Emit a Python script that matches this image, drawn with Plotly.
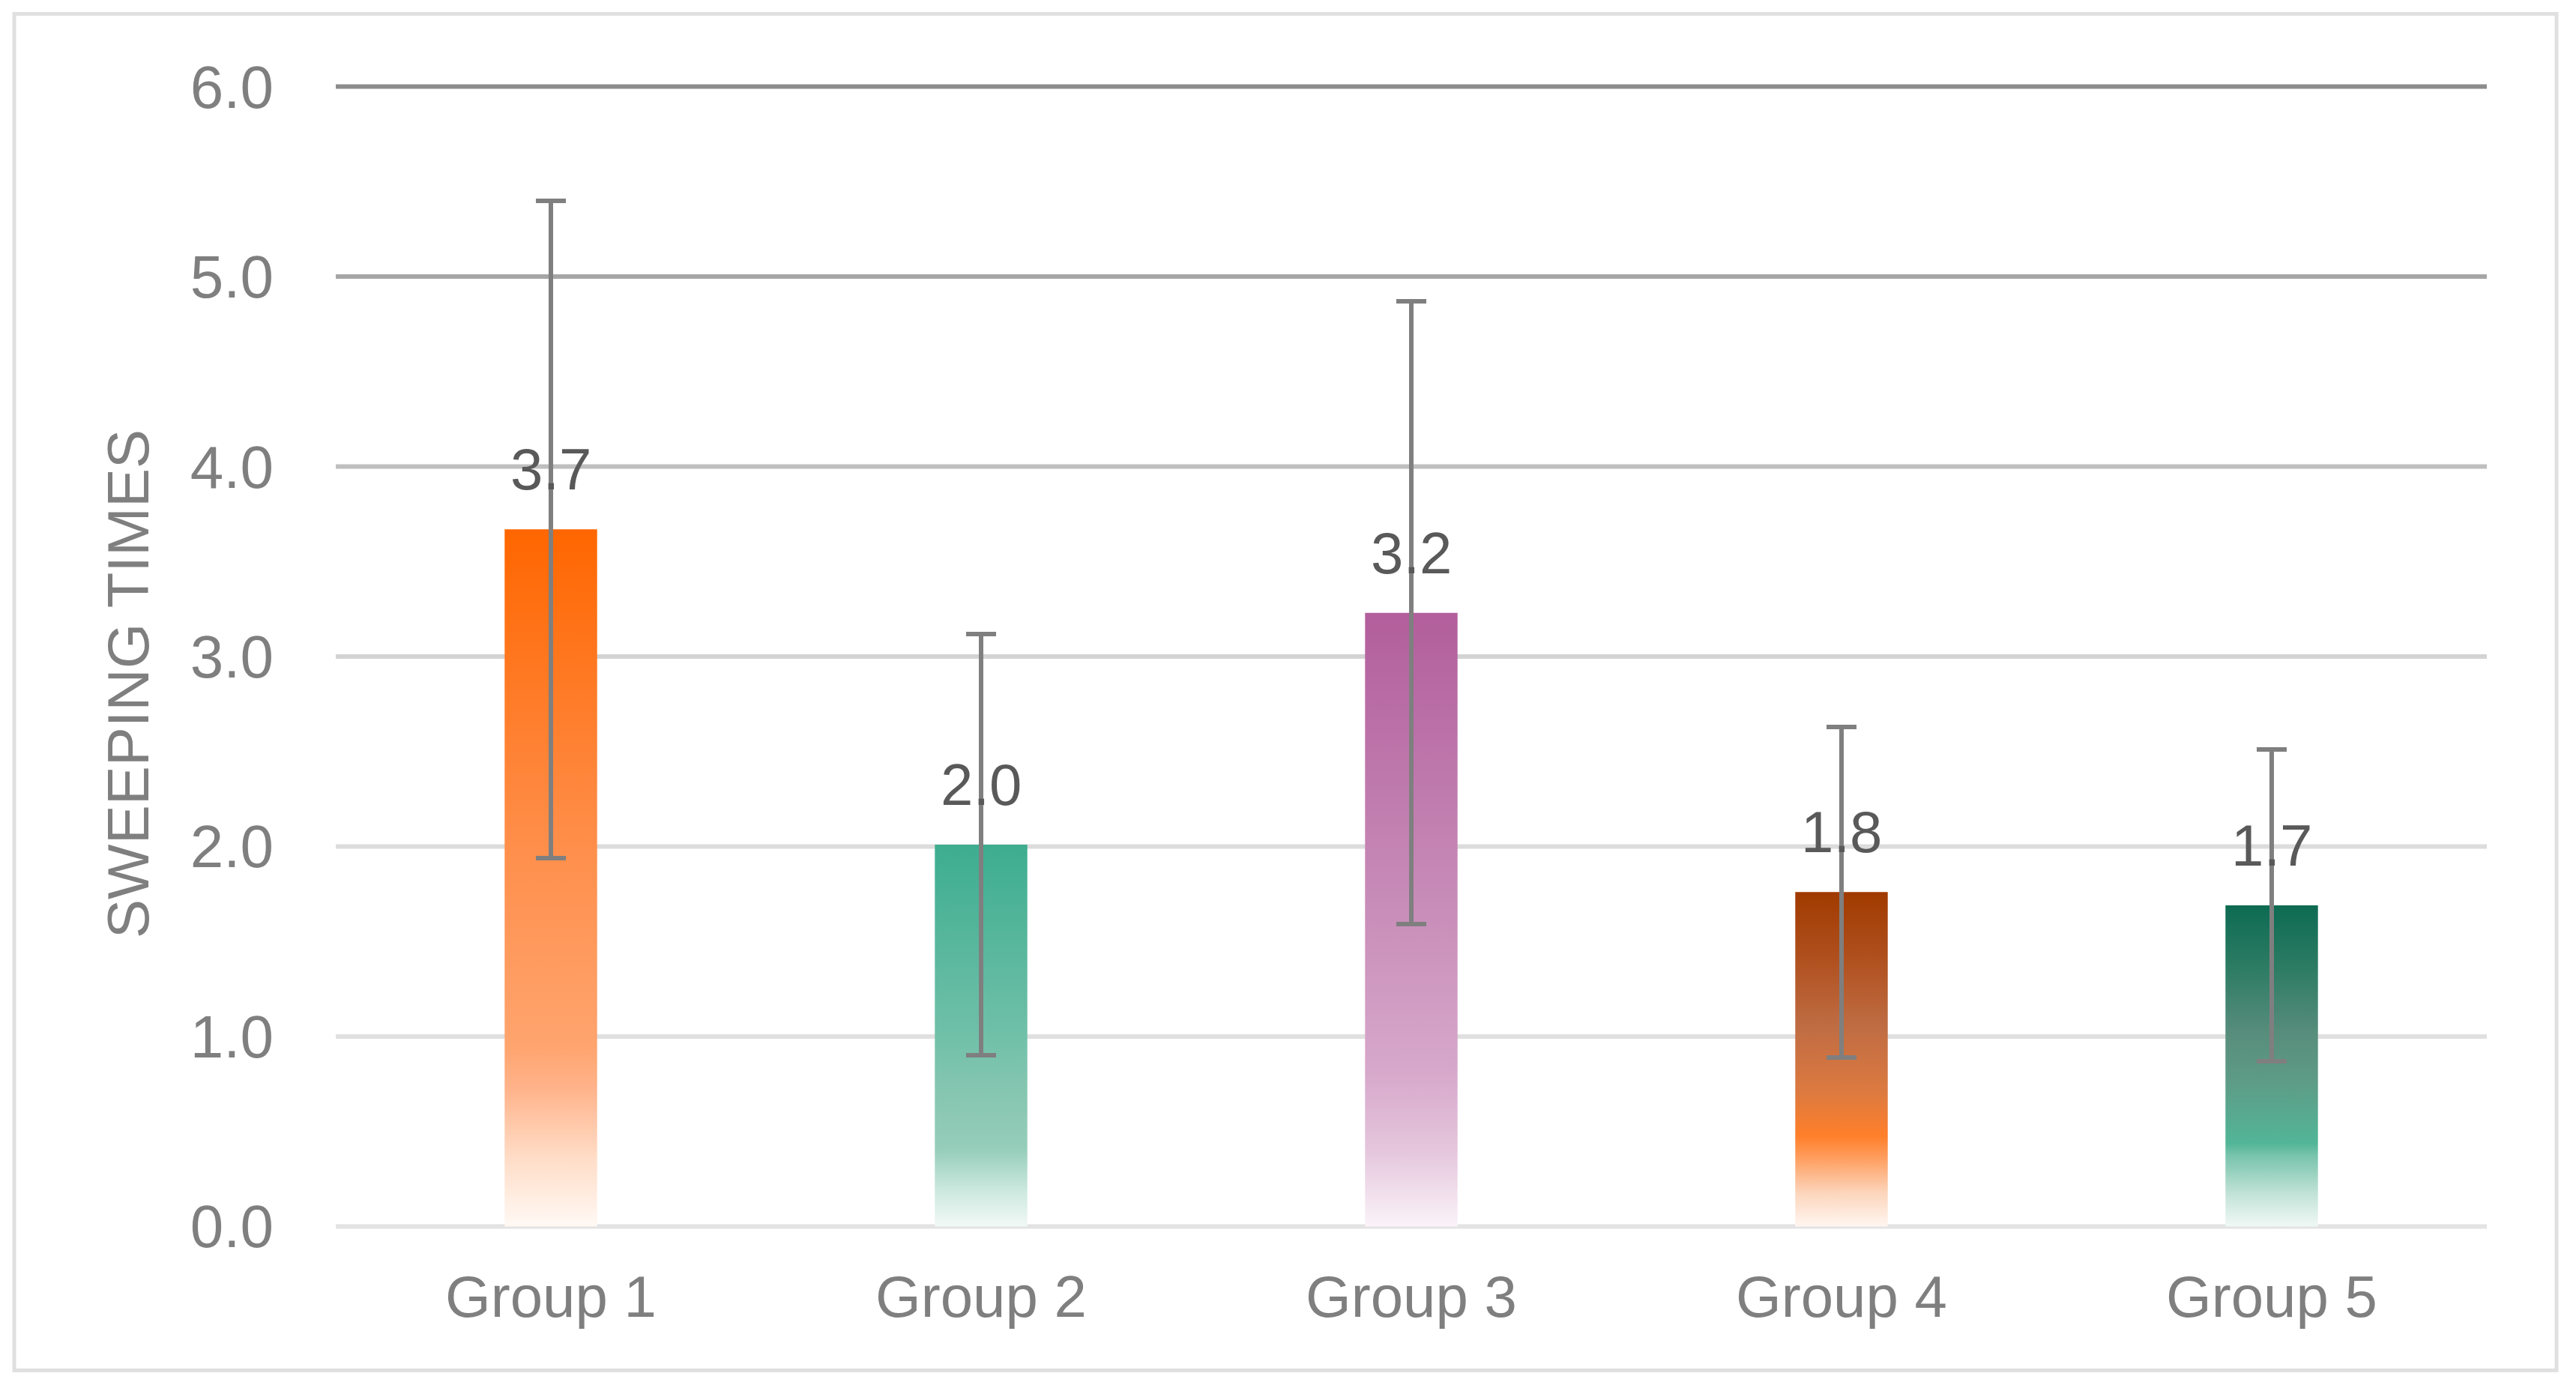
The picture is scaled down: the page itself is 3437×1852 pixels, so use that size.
import plotly.graph_objects as go

# ---------------- data ----------------
CATEGORIES = ["Group 1", "Group 2", "Group 3", "Group 4", "Group 5"]
MEANS = [3.67, 2.01, 3.23, 1.76, 1.69]
ERRORS = [1.73, 1.11, 1.64, 0.87, 0.82]
Y_TICKS = [0, 1, 2, 3, 4, 5, 6]
Y_TICK_LABELS = ["0.0", "1.0", "2.0", "3.0", "4.0", "5.0", "6.0"]
Y_TITLE = "SWEEPING TIMES"

# ---------------- style ----------------
W, H = 3437, 1852
M_L, M_R, M_T, M_B = 448, 119, 108.4, 208.4
Y_RANGE = [-0.03, 6.03]
BAR_WIDTH = 0.215
FONT = "Liberation Sans, Arial, sans-serif"
TICK_COLOR = "#7F7F7F"
LABEL_COLOR = "#595959"
ERR_COLOR = "#7F7F7F"
GRID_COLORS = ["#E3E3E3", "#E0E0E0", "#DCDCDC", "#D3D3D3", "#BFBFBF", "#A6A6A6", "#8C8C8C"]
# vertical gradients: position 0 = bottom of the bar, 1 = top
GRADIENTS = [
    [[0, "#FFF9F5"], [0.1, "#FFDCC6"], [0.2, "#FFB289"], [0.26, "#FFA46E"], [0.55, "#FF8E4A"], [1, "#FF6600"]],
    [[0, "#F2F9F7"], [0.1, "#C9E7DD"], [0.2, "#96CDBB"], [0.35, "#86C6B1"], [0.5, "#70C0A8"], [1, "#3DAD90"]],
    [[0, "#FAF3F8"], [0.12, "#E5C7DD"], [0.25, "#D7A8CB"], [0.5, "#C98FBA"], [1, "#B25E9C"]],
    [[0, "#FFF6F0"], [0.1, "#FCD5BC"], [0.21, "#FF9B5A"], [0.27, "#FF7F2A"], [0.4, "#DD7A40"],
     [0.6, "#BF6C43"], [0.8, "#B0501F"], [1, "#A03A00"]],
    [[0, "#F0F8F5"], [0.1, "#C3E3D8"], [0.22, "#78C4AC"], [0.26, "#52B597"], [0.45, "#5E9C87"],
     [0.6, "#588D7C"], [0.8, "#2E7C64"], [1, "#0D6B52"]],
]

fig = go.Figure()

# gradient-filled bar bodies (drawn in the base subplot)
for i, (v, cs) in enumerate(zip(MEANS, GRADIENTS)):
    x0, x1 = i - BAR_WIDTH / 2, i + BAR_WIDTH / 2
    fig.add_trace(go.Scatter(
        x=[x0, x1, x1, x0, x0], y=[0, 0, v, v, 0],
        mode="lines", fill="toself",
        line=dict(width=0, color="rgba(0,0,0,0)"),
        fillgradient=dict(type="vertical", colorscale=cs),
        hoverinfo="skip", showlegend=False,
        xaxis="x", yaxis="y",
    ))

# the bar trace itself (transparent body) carrying the error bars, on an overlay axis
fig.add_trace(go.Bar(
    x=CATEGORIES, y=MEANS, width=BAR_WIDTH,
    marker=dict(color="rgba(0,0,0,0)", line=dict(width=0)),
    error_y=dict(type="data", array=ERRORS, visible=True,
                 color=ERR_COLOR, thickness=6, width=20),
    showlegend=False,
    xaxis="x2", yaxis="y",
))

# data labels
for c, v in zip(CATEGORIES, MEANS):
    fig.add_annotation(
        x=c, y=v, xref="x2", yref="y", text=f"{v:.1f}", showarrow=False,
        yanchor="middle", yshift=80,
        font=dict(family=FONT, size=78, color=LABEL_COLOR),
    )

# gridlines with individual shades
for t, gc in zip(Y_TICKS, GRID_COLORS):
    fig.add_shape(type="line", xref="paper", yref="y", x0=0, x1=1, y0=t, y1=t,
                  line=dict(color=gc, width=6), layer="below")

# outer frame
plot_w = W - M_L - M_R
plot_h = H - M_T - M_B
def px_x(p):
    return (p - M_L) / plot_w
def px_y(p):
    return (H - M_B - p) / plot_h
fig.add_shape(type="rect", xref="paper", yref="paper",
              x0=px_x(19), x1=px_x(3411), y0=px_y(1828), y1=px_y(19),
              line=dict(color="#E0E0E0", width=5), fillcolor="rgba(0,0,0,0)", layer="below")

# y-axis title
fig.add_annotation(
    text=Y_TITLE, xref="paper", yref="paper", x=px_x(171), y=px_y(913),
    textangle=-90, showarrow=False, xanchor="center", yanchor="middle",
    font=dict(family=FONT, size=78, color=TICK_COLOR),
)

fig.update_layout(
    width=W, height=H,
    margin=dict(l=M_L, r=M_R, t=M_T, b=M_B, pad=0),
    paper_bgcolor="white", plot_bgcolor="white",
    font=dict(family=FONT, size=78, color=TICK_COLOR),
    xaxis=dict(range=[-0.5, len(CATEGORIES) - 0.5], showgrid=False, zeroline=False,
               showticklabels=False, showline=False, ticks=""),
    xaxis2=dict(overlaying="x", type="category", categoryorder="array", categoryarray=CATEGORIES,
                range=[-0.5, len(CATEGORIES) - 0.5], side="bottom",
                showgrid=False, zeroline=False, showline=False, ticks="",
                ticklabelstandoff=34,
                tickfont=dict(family=FONT, size=78, color=TICK_COLOR)),
    yaxis=dict(range=Y_RANGE, tickvals=Y_TICKS, ticktext=Y_TICK_LABELS,
               showgrid=False, zeroline=False, showline=False, ticks="",
               ticklabelstandoff=82,
               tickfont=dict(family=FONT, size=80, color=TICK_COLOR)),
    bargap=0,
    showlegend=False,
)

fig.write_html("out.html", config={"displayModeBar": False},
               post_script="document.body.style.margin='0';document.body.style.overflow='hidden';")
